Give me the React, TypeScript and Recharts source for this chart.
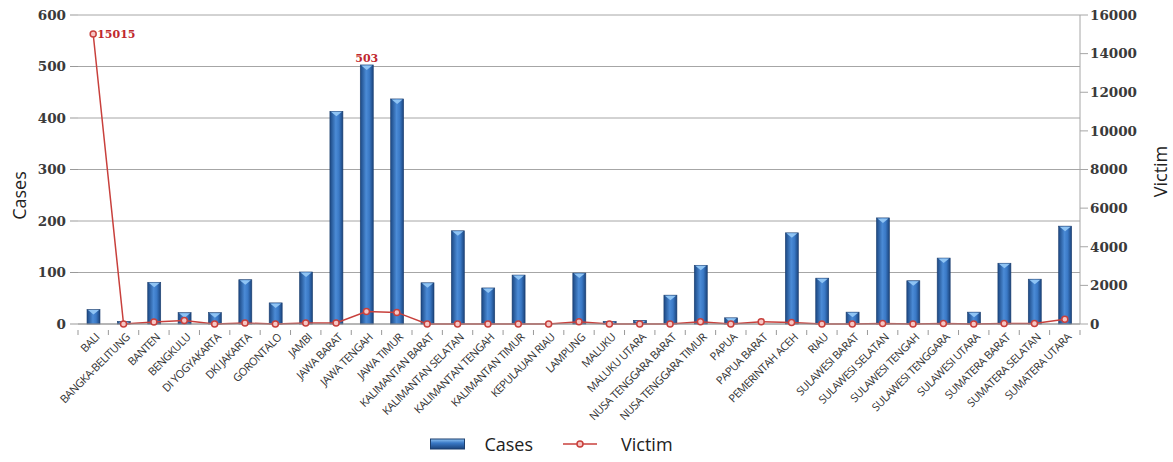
import {
  Bar,
  CartesianGrid,
  ComposedChart,
  LabelList,
  Legend,
  Line,
  XAxis,
  YAxis,
} from 'recharts'

const provinces = [
  'BALI', 'BANGKA-BELITUNG', 'BANTEN', 'BENGKULU', 'DI YOGYAKARTA', 'DKI JAKARTA',
  'GORONTALO', 'JAMBI', 'JAWA BARAT', 'JAWA TENGAH', 'JAWA TIMUR', 'KALIMANTAN BARAT',
  'KALIMANTAN SELATAN', 'KALIMANTAN TENGAH', 'KALIMANTAN TIMUR', 'KEPULAUAN RIAU',
  'LAMPUNG', 'MALUKU', 'MALUKU UTARA', 'NUSA TENGGARA BARAT', 'NUSA TENGGARA TIMUR',
  'PAPUA', 'PAPUA BARAT', 'PEMERINTAH ACEH', 'RIAU', 'SULAWESI BARAT', 'SULAWESI SELATAN',
  'SULAWESI TENGAH', 'SULAWESI TENGGARA', 'SULAWESI UTARA', 'SUMATERA BARAT',
  'SUMATERA SELATAN', 'SUMATERA UTARA',
]

const cases = [
  28, 5, 81, 22, 22, 86, 41, 101, 413, 503, 437, 80, 181, 70, 95, 0, 99, 5, 7, 56, 114,
  12, 0, 177, 89, 23, 206, 84, 128, 23, 118, 87, 190,
]

const victims = [
  15015, 0, 100, 180, 0, 50, 0, 50, 50, 650, 600, 0, 0, 0, 0, 0, 120, 0, 0, 0, 120, 0,
  120, 80, 0, 0, 30, 0, 30, 0, 30, 30, 250,
]

const casesTicks = [0, 100, 200, 300, 400, 500, 600]
const victimTicks = [0, 2000, 4000, 6000, 8000, 10000, 12000, 14000, 16000]

const data = provinces.map((name, i) => ({ name, cases: cases[i], victim: victims[i] }))

const maxCases = Math.max(...cases)
const maxVictim = Math.max(...victims)

const CHART_W = 1173
const LEFT_W = 78
const RIGHT_W = 93
const step = (CHART_W - LEFT_W - RIGHT_W) / provinces.length

const tickFont = { fontFamily: 'DejaVu Serif', fontSize: 13.5, fontWeight: 'bold', fill: '#3a3a3a' }
const titleFont = { fontFamily: 'Open Sans', fontSize: 18, fill: '#222' }

function BarShape(props: any) {
  const { x, y, width, height } = props
  if (!height || height <= 0) return null
  const tri = Math.min(5, height)
  return (
    <g>
      <rect x={x} y={y} width={width} height={height} fill="url(#barGrad)" stroke="#1d3f6e" strokeWidth={0.6} />
      <polygon
        points={`${x + 1},${y + 0.5} ${x + width - 1},${y + 0.5} ${x + width / 2},${y + tri}`}
        fill="#8fc4f4"
      />
    </g>
  )
}

// category labels, plus the little boundary ticks between categories
function ProvinceTick(props: any) {
  const { x, y, payload, index } = props
  return (
    <g>
      <line x1={x - step / 2} x2={x - step / 2} y1={y - 2} y2={y + 3} stroke="#999" />
      {index === provinces.length - 1 && (
        <line x1={x + step / 2} x2={x + step / 2} y1={y - 2} y2={y + 3} stroke="#999" />
      )}
      <g transform={`translate(${x + 7},${y + 6})`}>
        <text
          transform="rotate(-45)"
          textAnchor="end"
          fontFamily="Open Sans"
          fontSize={11}
          fill="#333"
          letterSpacing={-0.45}
        >
          {payload.value}
        </text>
      </g>
    </g>
  )
}

function CasesTitle({ viewBox }: any) {
  const cx = viewBox.x + 19
  const cy = viewBox.y + viewBox.height / 2 + 26
  return (
    <text x={cx} y={cy} transform={`rotate(-90 ${cx} ${cy})`} textAnchor="middle" dominantBaseline="central" {...titleFont}>
      Cases
    </text>
  )
}

function VictimTitle({ viewBox }: any) {
  const cx = viewBox.x + 80
  const cy = viewBox.y + viewBox.height / 2 + 2
  return (
    <text x={cx} y={cy} transform={`rotate(-90 ${cx} ${cy})`} textAnchor="middle" dominantBaseline="central" {...titleFont}>
      Victim
    </text>
  )
}

function LegendContent() {
  return (
    <div
      style={{
        display: 'flex',
        justifyContent: 'center',
        alignItems: 'center',
        fontFamily: 'Open Sans',
        fontSize: 18,
        color: '#222',
        transform: 'translateX(-35px)',
      }}
    >
      <svg width={36} height={12} style={{ marginRight: 18 }}>
        <rect x={0.5} y={1} width={34} height={10} fill="url(#legendGrad)" stroke="#1d3f6e" />
      </svg>
      <span style={{ marginRight: 30 }}>Cases</span>
      <svg width={34} height={12} style={{ marginRight: 24 }}>
        <line x1={0} y1={6} x2={34} y2={6} stroke="#c8403c" strokeWidth={1.5} />
        <circle cx={17} cy={6} r={3} fill="#f6c6c4" stroke="#c8403c" strokeWidth={1.5} />
      </svg>
      <span>Victim</span>
    </div>
  )
}

export default function App() {
  return (
    <div style={{ position: 'absolute', left: 0, top: 0, background: '#fff' }}>
      <ComposedChart
        width={CHART_W}
        height={462}
        data={data}
        margin={{ top: 15, right: 0, left: 0, bottom: 0 }}
        barCategoryGap={0}
      >
        <defs>
          <linearGradient id="barGrad" x1="0" y1="0" x2="1" y2="0">
            <stop offset="0%" stopColor="#1b4782" />
            <stop offset="45%" stopColor="#4b8bd6" />
            <stop offset="70%" stopColor="#3a79c6" />
            <stop offset="100%" stopColor="#1a437b" />
          </linearGradient>
          <linearGradient id="legendGrad" x1="0" y1="0" x2="0" y2="1">
            <stop offset="0%" stopColor="#8fc4f4" />
            <stop offset="40%" stopColor="#3a79c6" />
            <stop offset="100%" stopColor="#1a437b" />
          </linearGradient>
        </defs>

        <CartesianGrid vertical={false} stroke="#a6a6a6" yAxisId="cases" />

        <XAxis
          dataKey="name"
          interval={0}
          height={108}
          tick={<ProvinceTick />}
          tickLine={false}
          stroke="#999"
        />

        <YAxis
          yAxisId="cases"
          width={LEFT_W}
          domain={[0, 600]}
          ticks={casesTicks}
          axisLine={false}
          tickLine={{ stroke: '#999' }}
          tickSize={8}
          tickMargin={4}
          tick={tickFont}
          label={<CasesTitle />}
        />

        <YAxis
          yAxisId="victim"
          orientation="right"
          width={RIGHT_W}
          domain={[0, 16000]}
          ticks={victimTicks}
          stroke="#a6a6a6"
          tickSize={8}
          tick={tickFont}
          label={<VictimTitle />}
        />

        <Legend verticalAlign="bottom" height={30} content={<LegendContent />} />

        <Bar
          yAxisId="cases"
          dataKey="cases"
          name="Cases"
          barSize={13}
          shape={<BarShape />}
          isAnimationActive={false}
        >
          <LabelList
            dataKey="cases"
            content={(p: any) =>
              p.value === maxCases ? (
                <text
                  x={p.x + p.width / 2}
                  y={p.y - 3}
                  textAnchor="middle"
                  fontFamily="DejaVu Serif"
                  fontWeight="bold"
                  fontSize={11}
                  fill="#c0282d"
                >
                  {p.value}
                </text>
              ) : null
            }
          />
        </Bar>

        <Line
          yAxisId="victim"
          dataKey="victim"
          name="Victim"
          stroke="#c8403c"
          strokeWidth={1.5}
          dot={{ r: 3, fill: '#f6c6c4', stroke: '#c8403c', strokeWidth: 1.5 }}
          isAnimationActive={false}
        >
          <LabelList
            dataKey="victim"
            content={(p: any) =>
              p.value === maxVictim ? (
                <text
                  x={p.x + 4}
                  y={p.y + 4}
                  textAnchor="start"
                  fontFamily="DejaVu Serif"
                  fontWeight="bold"
                  fontSize={11}
                  fill="#c0282d"
                >
                  {p.value}
                </text>
              ) : null
            }
          />
        </Line>
      </ComposedChart>
    </div>
  )
}
